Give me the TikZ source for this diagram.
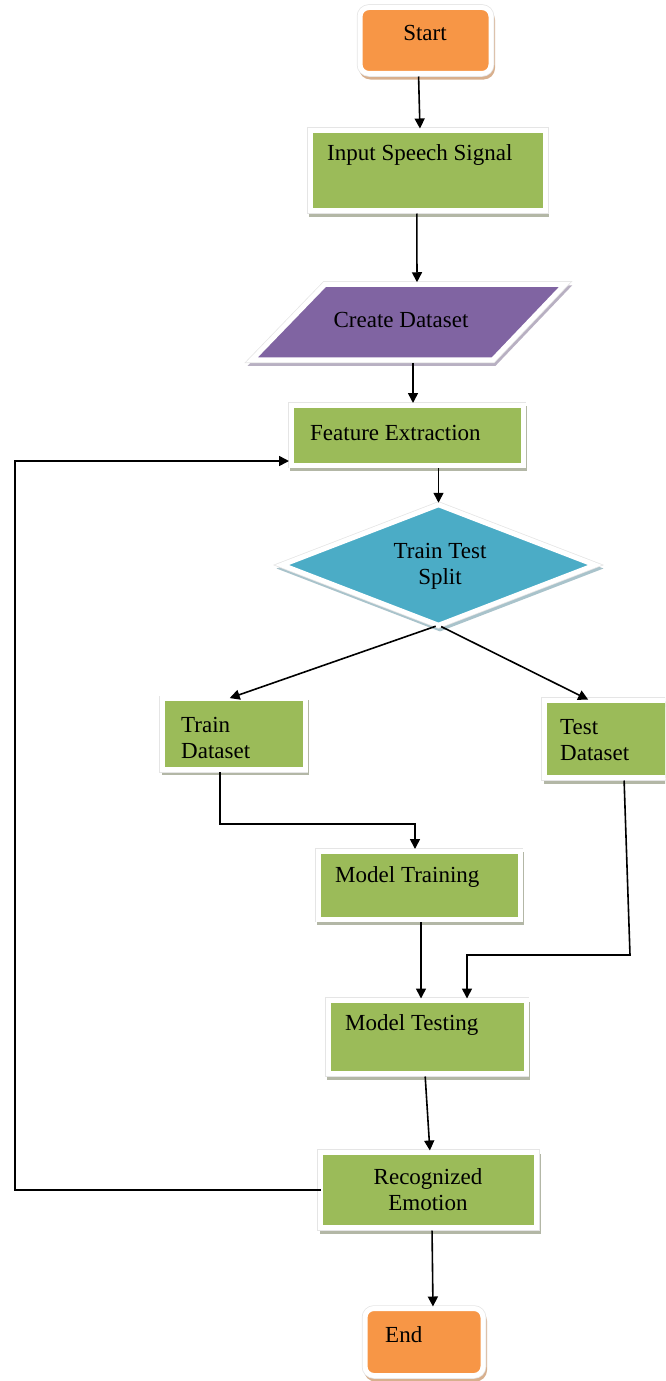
\documentclass[tikz,border=0pt]{standalone}
\usepackage{fontspec}
\setmainfont{Liberation Serif}
\usetikzlibrary{shapes.geometric,shadows,arrows.meta,calc}
\definecolor{cOrange}{HTML}{F79646}
\definecolor{cGreen}{HTML}{9BBB59}
\definecolor{cPurple}{HTML}{8064A2}
\definecolor{cBlue}{HTML}{4BACC6}
\definecolor{shGreen}{HTML}{B3B7A6}
\definecolor{shOrange}{HTML}{D8B08E}
\definecolor{shPurple}{HTML}{B8B0C2}
\definecolor{shBlue}{HTML}{A9C3CB}
\begin{document}
\begin{tikzpicture}[x=1pt,y=-1pt,
  shadowed/.style={drop shadow={shadow xshift=1.5pt,shadow yshift=-3.5pt,fill=#1,draw=#1,line width=5pt,opacity=1}},
  outl/.style={preaction={draw=black!10,line width=6.5pt}},
  base/.style={draw=white,line width=5pt,inner sep=0pt,outer sep=0pt},
  greenbox/.style={base,rectangle,shadowed=shGreen,outl,fill=cGreen},
  termbox/.style={base,rectangle,rounded corners=9pt,shadowed=shOrange,outl,fill=cOrange},
  iobox/.style={draw=white,line width=5pt,shadowed=shPurple,outl,fill=cPurple},
  anchorbox/.style={rectangle,inner sep=0pt,outer sep=0pt},
  decbox/.style={base,inner sep=1pt,diamond,shadowed=shBlue,outl,fill=cBlue},
  txt/.style={font=\fontsize{23}{26}\selectfont,inner sep=0pt,align=left},
  arr/.style={draw=black,line width=1.6pt,-{Triangle[length=10pt,width=10pt]},shorten <=3pt,shorten >=2pt}
]
\useasboundingbox (0,0) rectangle (665,1381);
\clip (0,0) rectangle (665,1381);

% shapes
\node[termbox,minimum width=131pt,minimum height=66pt] (start) at (425.5,40.5) {};
\node[greenbox,minimum width=235pt,minimum height=80pt] (input) at (427.8,170.5) {};
\node[anchorbox,minimum width=313pt,minimum height=75.5pt] (create) at (408.5,322) {};
\path[iobox] ($(create.north west)+(73,0)$) -- (create.north east)
   -- ($(create.south east)+(-72,0)$) -- (create.south west) -- cycle;
\node[greenbox,minimum width=232pt,minimum height=60pt] (feat) at (407,435) {};
\node[decbox,minimum width=313pt,minimum height=120.5pt] (split) at (438.5,565) {};
\node[greenbox,minimum width=142.5pt,minimum height=70.5pt] (train) at (233.8,734) {};
\node[greenbox,minimum width=135pt,minimum height=77pt] (test) at (612,739) {};
\node[greenbox,minimum width=202pt,minimum height=68pt] (mtrain) at (419,885) {};
\node[greenbox,minimum width=198pt,minimum height=73pt] (mtest) at (427,1037) {};
\node[greenbox,minimum width=216pt,minimum height=75pt] (rec) at (428.5,1190) {};
\node[termbox,minimum width=118pt,minimum height=67pt] (end) at (424,1342) {};

% texts
\node[txt] (tStart) at (425,33) {Start};
\node[txt,anchor=west] (tInput) at (327,155) {Input Speech Signal};
\node[txt] (tCreate) at (401,320) {Create Dataset};
\node[txt,anchor=west] (tFeat) at (310,433) {Feature Extraction};
\node[txt,align=center] (tSplit) at (440,566.5) {Train Test\\Split};
\node[txt,anchor=west] (tTrain) at (181,738) {Train\\Dataset};
\node[txt,anchor=west] (tTest) at (560,740) {Test\\Dataset};
\node[txt,anchor=west] (tMTrain) at (335,877) {Model Training};
\node[txt,anchor=west] (tMTest) at (345,1025) {Model Testing};
\node[txt,align=center] (tRec) at (428,1190) {Recognized\\Emotion};
\node[txt,anchor=west] (tEnd) at (385,1335) {End};

% helper coordinates
\coordinate (tm) at (415,824);
\coordinate (tk) at (630,955);
\coordinate (fb) at (15,461);

% connectors
\draw[arr] ([xshift=-7pt]start.south) -- ([xshift=-7.8pt]input.north);
\draw[arr] ([xshift=-11pt]input.south) -- ([xshift=8.5pt]create.north);
\draw[arr] ([xshift=4.5pt]create.south) -- ([xshift=6pt]feat.north);
\draw[arr] (split.north |- feat.south) -- (split.north);
\draw[arr] (split.south) -- ([xshift=-6pt]train.north);
\draw[arr] (split.south) -- ([xshift=-22pt]test.north);
\draw[arr] ([xshift=-14pt]train.south) |- (tm) -- ([xshift=-4pt]mtrain.north);
\draw[arr] ([xshift=2pt]mtrain.south) -- ([xshift=-6pt]mtest.north);
\draw[arr] ([xshift=12pt]test.south) -- (tk) -| ([xshift=40pt]mtest.north);
\draw[arr] ([xshift=-2pt]mtest.south) -- ([xshift=1.5pt]rec.north);
\draw[arr] ([xshift=3.5pt]rec.south) -- ([xshift=9pt]end.north);
\draw[arr,shorten <=0pt] (rec.west) -| (fb) -- (feat.west |- fb);
\end{tikzpicture}
\end{document}
